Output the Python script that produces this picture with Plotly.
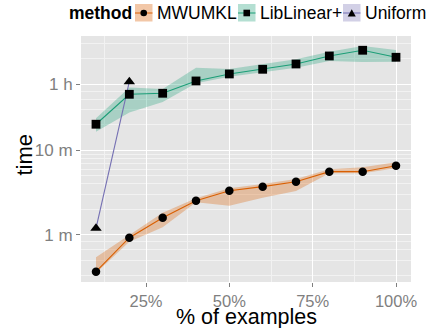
import plotly.graph_objects as go

# ---- data (minutes) ----
pct = [10, 20, 30, 40, 50, 60, 70, 80, 90, 100]

mwumkl = [0.369, 0.929, 1.60, 2.54, 3.33, 3.72, 4.26, 5.59, 5.59, 6.58]
mwumkl_lo = [0.356, 0.834, 1.23, 2.43, 2.22, 2.76, 3.31, 5.35, 5.35, 6.13]
mwumkl_hi = [0.545, 1.00, 1.83, 2.71, 3.56, 4.00, 4.58, 5.97, 6.30, 7.21]

liblin = [20.3, 45.8, 47.1, 65.8, 79.6, 90.4, 104.4, 129.8, 151.6, 125.3]
liblin_lo = [16.6, 27.9, 37.2, 61.8, 73.9, 83.4, 94.5, 113.3, 110.3, 111.2]
liblin_hi = [23.9, 55.1, 52.9, 94.5, 91.2, 103.6, 118.7, 145.9, 170.4, 152.8]

uni_pct = [10, 20]
uniform = [1.20, 64.6]

methods = ["MWUMKL", "LibLinear+", "Uniform"]
colors = ["#D95F02", "#1B9E77", "#7570B3"]
fills = ["rgba(217,95,2,0.3)", "rgba(27,158,119,0.3)", "rgba(117,112,179,0.3)"]
key_fills = ["rgba(217,95,2,0.35)", "rgba(27,158,119,0.33)", "rgba(117,112,179,0.33)"]

y_tickvals = [1, 10, 60]
y_ticktext = ["1 m", "10 m", "1 h"]
y_minor = [20/60, 30/60, 40/60, 50/60, 2, 3, 4, 5, 6, 7, 8, 9, 20, 30, 40, 50, 120, 180]
x_tickvals = [25, 50, 75, 100]
x_ticktext = ["25%", "50%", "75%", "100%"]
x_minor = [12.5, 37.5, 62.5, 87.5]

FONT = "Liberation Sans, Arial, Helvetica, sans-serif"
W, H = 431, 328
L, R, T, B = 81, 20, 36, 46

fig = go.Figure()

def ribbon(x, lo, hi, fill):
    fig.add_trace(go.Scatter(x=x + x[::-1], y=hi + lo[::-1], fill="toself",
                             fillcolor=fill, line=dict(width=0), mode="lines",
                             hoverinfo="skip", showlegend=False))

ribbon(pct, mwumkl_lo, mwumkl_hi, fills[0])
ribbon(pct, liblin_lo, liblin_hi, fills[1])

fig.add_trace(go.Scatter(x=uni_pct, y=uniform, mode="lines+markers",
                         line=dict(color=colors[2], width=1.1),
                         marker=dict(symbol="triangle-up", size=10, color="black"),
                         showlegend=False))
fig.add_trace(go.Scatter(x=pct, y=mwumkl, mode="lines+markers",
                         line=dict(color=colors[0], width=1.1),
                         marker=dict(symbol="circle", size=8.5, color="black"),
                         showlegend=False))
fig.add_trace(go.Scatter(x=pct, y=liblin, mode="lines+markers",
                         line=dict(color=colors[1], width=1.1),
                         marker=dict(symbol="square", size=8.8, color="black"),
                         showlegend=False))

# ---- manual legend (ggplot style) ----
pw, ph = W - L - R, H - T - B
def px(x):
    return (x - L) / pw
def py(y):
    return (H - B - y) / ph

shapes = []
annots = []
annots.append(dict(x=px(67), y=py(13.5), xref="paper", yref="paper", text="<b>method</b>",
                   showarrow=False, xanchor="left", yanchor="middle",
                   font=dict(family=FONT, size=17.5, color="black")))
key_x = [135, 238, 343]
for i, (m, kx) in enumerate(zip(methods, key_x)):
    shapes.append(dict(type="rect", xref="paper", yref="paper", x0=px(kx), x1=px(kx + 17.5),
                       y0=py(21.5), y1=py(4), fillcolor=key_fills[i], line=dict(width=0)))
    shapes.append(dict(type="line", xref="paper", yref="paper", x0=px(kx), x1=px(kx + 17.5),
                       y0=py(13), y1=py(13), line=dict(color=colors[i], width=1)))
    cx = kx + 8.75
    if i == 0:
        shapes.append(dict(type="circle", xref="paper", yref="paper", x0=px(cx - 3.3), x1=px(cx + 3.3),
                           y0=py(16.3), y1=py(9.7), fillcolor="black", line=dict(width=0)))
    elif i == 1:
        shapes.append(dict(type="rect", xref="paper", yref="paper", x0=px(cx - 3.3), x1=px(cx + 3.3),
                           y0=py(16.3), y1=py(9.7), fillcolor="black", line=dict(width=0)))
    else:
        path = "M %f %f L %f %f L %f %f Z" % (px(cx - 4), py(16.5), px(cx + 4), py(16.5), px(cx), py(9.3))
        shapes.append(dict(type="path", xref="paper", yref="paper", path=path,
                           fillcolor="black", line=dict(width=0)))
    annots.append(dict(x=px(kx + 19.5), y=py(13.5), xref="paper", yref="paper", text=m,
                       showarrow=False, xanchor="left", yanchor="middle",
                       font=dict(family=FONT, size=17.5, color="black")))

# axis titles as annotations for exact placement
annots.append(dict(x=px(23.5), y=py(154), xref="paper", yref="paper", text="time",
                   textangle=-90, showarrow=False, xanchor="center", yanchor="middle",
                   font=dict(family=FONT, size=22, color="black")))
annots.append(dict(x=px(246.5), y=py(317), xref="paper", yref="paper", text="% of examples",
                   showarrow=False, xanchor="center", yanchor="middle",
                   font=dict(family=FONT, size=21.5, color="black")))

fig.update_layout(
    width=W, height=H,
    margin=dict(l=L, r=R, t=T, b=B, pad=0),
    paper_bgcolor="white", plot_bgcolor="#E5E5E5",
    font=dict(family=FONT),
    showlegend=False,
    shapes=shapes, annotations=annots,
    hovermode=False,
)
fig.update_xaxes(
    range=[5.5, 104.5], tickvals=x_tickvals, ticktext=x_ticktext,
    ticks="outside", ticklen=4, tickcolor="#7F7F7F", tickwidth=1,
    tickfont=dict(family=FONT, size=16.5, color="#7F7F7F"),
    showgrid=True, gridcolor="white", gridwidth=1.4, zeroline=False, showline=False,
    minor=dict(tickvals=x_minor, showgrid=True, gridcolor="#F2F2F2", gridwidth=0.7, ticks=""),
    automargin=False,
)
fig.update_yaxes(
    type="log", range=[-0.555, 2.349], tickvals=y_tickvals, ticktext=y_ticktext,
    ticks="outside", ticklen=4, tickcolor="#7F7F7F", tickwidth=1,
    tickfont=dict(family=FONT, size=17, color="#7F7F7F"),
    showgrid=True, gridcolor="white", gridwidth=1.4, zeroline=False, showline=False,
    minor=dict(tickvals=y_minor, showgrid=True, gridcolor="#F2F2F2", gridwidth=0.7, ticks=""),
    automargin=False,
)

fig.write_html("out.html", config={"displayModeBar": False},
               post_script="document.body.style.margin='0';document.body.style.padding='0';")
